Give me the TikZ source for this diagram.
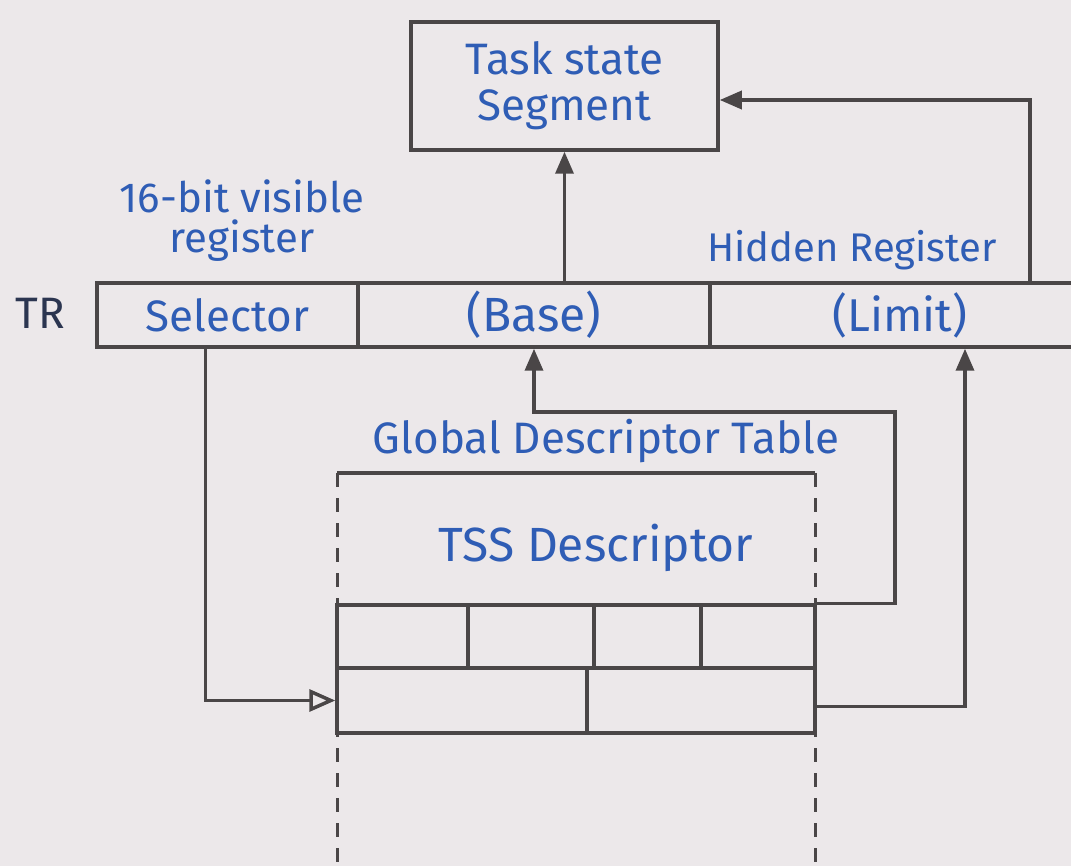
\documentclass[tikz,border=0pt]{standalone}
\usepackage{fontspec}
\setmainfont{Fira Sans}
\usetikzlibrary{arrows.meta}
\definecolor{paper}{HTML}{ECE8EA}
\definecolor{pencil}{HTML}{4A4647}
\definecolor{ink}{HTML}{2F5DB5}
\definecolor{darkink}{HTML}{2B3550}
\tikzset{
  cell/.style={draw=pencil, line width=3.5pt, rectangle, inner sep=0pt, text=ink,
               font=\fontsize{44}{50}\selectfont},
  lbl/.style={text=ink, inner sep=0pt, align=center, font=\fontsize{44}{48}\selectfont},
  conn/.style={draw=pencil, line width=3.5pt, line join=miter},
  arr/.style={conn, -{Triangle[length=22pt,width=18pt]}},
  openarr/.style={conn, -{Triangle[open,length=26pt,width=22pt]}},
  dashside/.style={draw=pencil, line width=3pt, dash pattern=on 14pt off 11pt}
}
\begin{document}
\begin{tikzpicture}[x=1pt,y=-1pt]
\fill[paper] (0,0) rectangle (1071,866);
\useasboundingbox (0,0) rectangle (1071,866);

% Task state segment
\node[cell, minimum width=307pt, minimum height=128pt, align=center] (tss) at (564.5,86)
  {Task state\\[-4pt]Segment};

% labels above the register
\node[lbl, font=\fontsize{42}{40}\selectfont] (vis) at (242,221) {16-bit visible\\register};
\node[lbl, font=\fontsize{40}{44}\selectfont] (hid) at (852,250) {Hidden Register};
\node[text=darkink, inner sep=0pt, font=\fontsize{44}{48}\selectfont] (tr) at (40,313) {TR};

% TR register row
\node[cell] (sel) at (227.5,315) [minimum width=261pt, minimum height=64pt] {Selector};
\node[cell, font=\fontsize{48}{52}\selectfont] (base) at (534,315) [minimum width=352pt, minimum height=64pt] {(Base)};
\node[cell, font=\fontsize{46}{50}\selectfont] (limit) at (900,315) [minimum width=380pt, minimum height=64pt] {(Limit)};

% Global descriptor table
\node[lbl] (gdt) at (606,441) {Global Descriptor Table};
\coordinate (gdtnw) at (337,473);
\coordinate (gdtne) at (815,473);
\coordinate (gdtsw) at (337,880);
\coordinate (gdtse) at (815,880);
\draw[conn] (gdtnw) -- (gdtne);
\draw[dashside] (gdtnw) -- (gdtsw);
\draw[dashside] (gdtne) -- (gdtse);
\node[lbl, font=\fontsize{48}{52}\selectfont] (desc) at (596,548) {TSS Descriptor};

% TSS descriptor cells
\node[cell, minimum width=131pt, minimum height=63pt] (r1a) at (402.5,636.5) {};
\node[cell, minimum width=126pt, minimum height=63pt] (r1b) at (531,636.5) {};
\node[cell, minimum width=107pt, minimum height=63pt] (r1c) at (647.5,636.5) {};
\node[cell, minimum width=114pt, minimum height=63pt] (r1d) at (758,636.5) {};
\node[cell, minimum width=250pt, minimum height=65pt] (r2a) at (462,700.5) {};
\node[cell, minimum width=228pt, minimum height=65pt] (r2b) at (701,700.5) {};

% connectors
\coordinate (loop) at (895,412);
\draw[arr] (tss.south |- base.north) -- (tss.south);
\draw[arr] ([xshift=130pt]limit.north) |- ([yshift=-14pt]tss.east);
\draw[arr] (r1d.north east) -| (loop) -| (base.south);
\draw[openarr] ([xshift=-22pt]sel.south) |- (r2a.west);
\draw[arr] ([yshift=-6pt]r2b.east) -| ([xshift=65pt]limit.south);
\end{tikzpicture}
\end{document}
